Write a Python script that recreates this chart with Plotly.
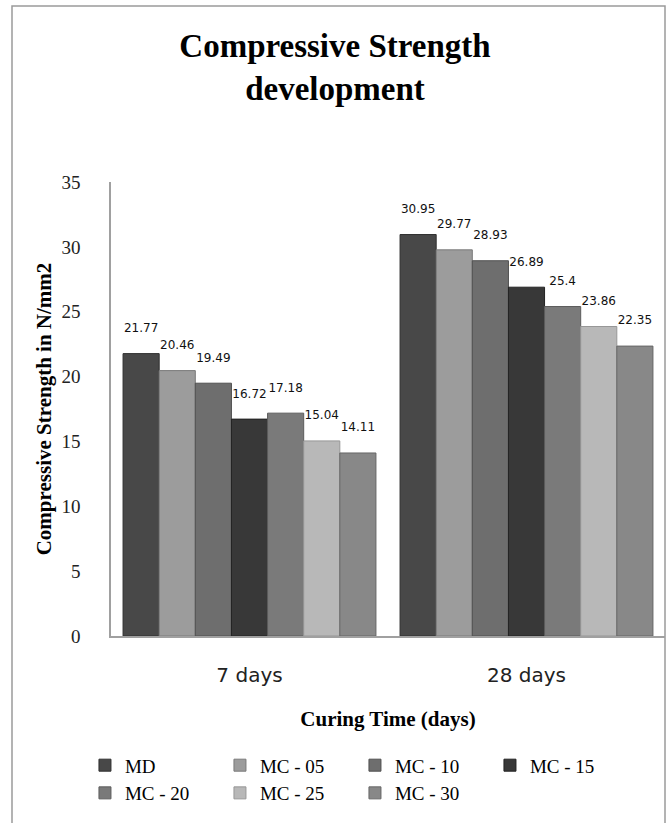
import plotly.graph_objects as go

# Curing ages on the category axis
curing_times = ["7 days", "28 days"]

# Compressive strength (N/mm2) for each mix
md = [21.77, 30.95]
mc_05 = [20.46, 29.77]
mc_10 = [19.49, 28.93]
mc_15 = [16.72, 26.89]
mc_20 = [17.18, 25.4]
mc_25 = [15.04, 23.86]
mc_30 = [14.11, 22.35]

series_names = ["MD", "MC - 05", "MC - 10", "MC - 15", "MC - 20", "MC - 25", "MC - 30"]
series_values = [md, mc_05, mc_10, mc_15, mc_20, mc_25, mc_30]
series_colors = ["#484848", "#9c9c9c", "#6e6e6e", "#383838", "#7a7a7a", "#b8b8b8", "#888888"]
edge_colors = ["#303030", "#7a7a7a", "#505050", "#222222", "#5c5c5c", "#979797", "#666666"]

SERIF = "Liberation Serif, Times New Roman, serif"
SANS = "DejaVu Sans, Verdana, sans-serif"

fig = go.Figure()
for name, vals, col, edge in zip(series_names, series_values, series_colors, edge_colors):
    fig.add_trace(go.Bar(
        name=name,
        x=curing_times,
        y=vals,
        marker=dict(color=col, line=dict(color=edge, width=1)),
        # a blank second line lifts the value label a little above the bar
        text=[f"{v:g}<br> " for v in vals],
        textposition="outside",
        textfont=dict(family=SANS, size=12, color="#111111"),
        cliponaxis=False,
    ))

# outer chart frame
fig.add_shape(type="rect", xref="paper", yref="paper",
              x0=-0.1787, x1=1.0, y0=-0.45, y1=1.3877,
              line=dict(color="#9a9a9a", width=1.5), fillcolor="rgba(0,0,0,0)", layer="below")

fig.update_layout(
    width=670, height=823,
    margin=dict(l=111, r=5, t=182, b=187),
    paper_bgcolor="white", plot_bgcolor="white",
    barmode="group", bargap=0.087, bargroupgap=0,
    uniformtext=dict(mode=False),
    title=dict(
        text="<b>Compressive Strength<br>development</b>",
        x=0.5, xanchor="center", xref="container",
        y=1 - 57 / 823, yanchor="middle", yref="container",
        font=dict(family=SERIF, size=33, color="#000000"),
    ),
    xaxis=dict(
        showline=True, linecolor="#a0a0a0", linewidth=1.5,
        showgrid=False, ticks="",
        tickfont=dict(family=SANS, size=20, color="#222222"),
        ticklabelstandoff=20,
        title=dict(text="<b>Curing Time (days)</b>",
                   font=dict(family=SERIF, size=21, color="#000000"), standoff=26),
    ),
    yaxis=dict(
        range=[0, 35], dtick=5, tick0=0,
        showline=True, linecolor="#a0a0a0", linewidth=1.5,
        showgrid=False, zeroline=False, ticks="",
        tickfont=dict(family=SERIF, size=19, color="#222222"),
        ticklabelstandoff=25,
        title=dict(text="<b>Compressive Strength in N/mm2</b>",
                   font=dict(family=SERIF, size=21, color="#000000"), standoff=4),
    ),
    legend=dict(
        orientation="h", x=-0.047, xanchor="left", y=-0.243, yanchor="top",
        entrywidth=90, entrywidthmode="pixels", itemwidth=30,
        font=dict(family=SERIF, size=19, color="#000000"),
        traceorder="normal", tracegroupgap=0,
    ),
    showlegend=True,
)

fig.write_html("out.html")
